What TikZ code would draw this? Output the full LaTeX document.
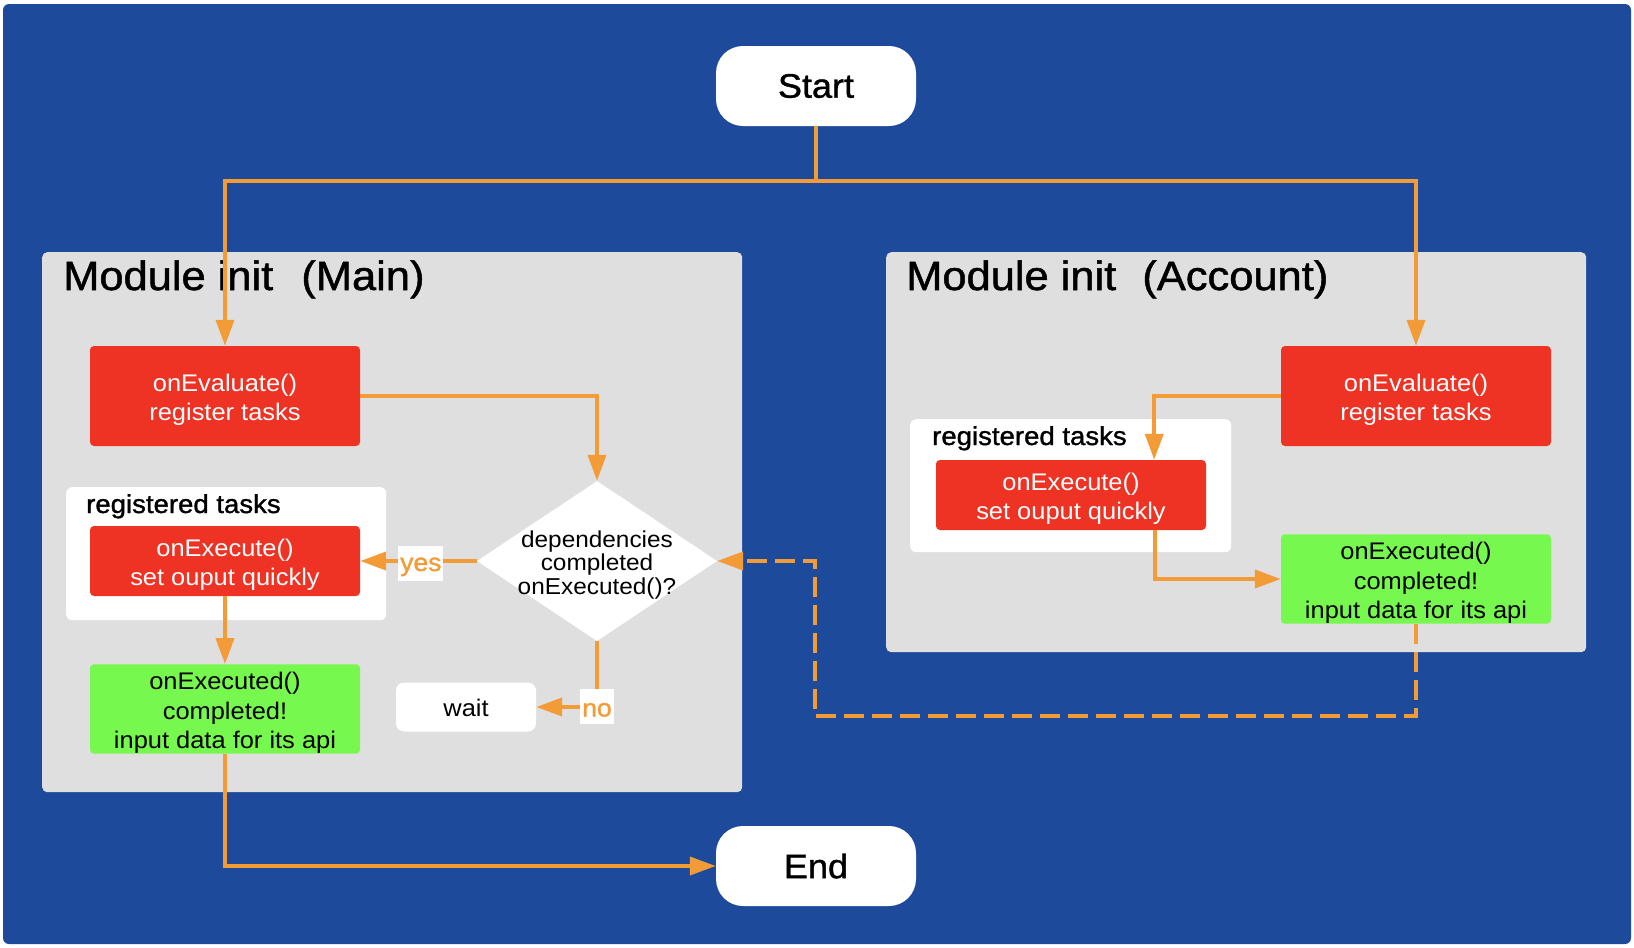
\documentclass[tikz,border=0pt]{standalone}
\usepackage{fontspec}
\setmainfont{Liberation Sans}[FakeStretch=1.06]
\newfontfamily\medfont{Liberation Sans}[FakeStretch=1.06,FakeBold=1.2]
\usetikzlibrary{shapes.geometric,arrows.meta,calc}
\definecolor{bgblue}{RGB}{30,74,155}
\definecolor{panelgray}{RGB}{223,223,223}
\definecolor{boxred}{RGB}{238,50,36}
\definecolor{boxgreen}{RGB}{118,248,78}
\definecolor{arrorange}{RGB}{242,155,55}
\newcommand{\firstln}{\rule{0pt}{25.5pt}}
\tikzset{
  panel/.style={fill=panelgray, rounded corners=5pt, draw=none, inner sep=0pt, anchor=north west},
  container/.style={fill=white, rounded corners=6pt, draw=none, inner sep=0pt, anchor=north west},
  paneltitle/.style={anchor=base west, inner sep=0pt, font=\medfont\fontsize{41}{48}\selectfont},
  tasklabel/.style={anchor=base west, inner sep=0pt, font=\medfont\fontsize{26}{30}\selectfont},
  terminal/.style={fill=white, rounded corners=27pt, minimum width=200pt, minimum height=80pt, inner sep=0pt, font=\medfont\fontsize{34}{40}\selectfont},
  redbox/.style={fill=boxred, text=white, rounded corners=4pt, minimum width=270pt, inner sep=0pt, align=center, font=\fontsize{24}{29}\selectfont},
  greenbox/.style={fill=boxgreen, text=black, rounded corners=4pt, minimum width=270pt, minimum height=86pt, inner sep=0pt, align=center, font=\fontsize{24}{29.5}\selectfont},
  waitbox/.style={fill=white, rounded corners=8pt, minimum width=140pt, minimum height=49pt, inner sep=0pt, text height=20pt, text depth=1pt, font=\fontsize{24}{29}\selectfont},
  decision/.style={diamond, fill=white, minimum width=240pt, minimum height=160pt, inner sep=0pt},
  yesno/.style={fill=white, text=arrorange, inner xsep=2pt, inner ysep=0pt, minimum height=35pt, text height=17pt, text depth=1pt, font=\medfont\fontsize{25}{30}\selectfont},
  arr/.style={draw=arrorange, line width=3.8pt, -{Triangle[length=26pt,width=18pt]}},
  dashedarr/.style={arr, dash pattern=on 20pt off 8pt},
  plain/.style={draw=arrorange, line width=3.8pt}
}
\begin{document}
\begin{tikzpicture}[x=1pt,y=-1pt]
\useasboundingbox (0,0) rectangle (1634,948);
\fill[white] (0,0) rectangle (1634,948);
\fill[bgblue, rounded corners=6pt] (3,4) rectangle (1631,944);

% terminals
\node[terminal] (start) at (816,86) {Start};
\node[terminal] (end) at (816,866) {End};

% panels
\node[panel, minimum width=700pt, minimum height=540pt] (mainpanel) at (42,252) {};
\node[panel, minimum width=700pt, minimum height=400pt] (accpanel) at (886,252) {};
\node[paneltitle] (maintitle) at (63,290) {Module init\hspace{16pt} (Main)};
\node[paneltitle] (acctitle) at (906,290) {Module init\hspace{14pt} (Account)};

% containers
\node[container, minimum width=320pt, minimum height=133pt] (maintasks) at (66,487) {};
\node[container, minimum width=321pt, minimum height=133pt] (acctasks) at (910,419) {};
\node[tasklabel] (maintaskslbl) at (86,513) {registered tasks};
\node[tasklabel] (acctaskslbl) at (932,445) {registered tasks};

% main module boxes
\node[redbox, minimum height=100pt] (eval1) at (225,396) {\firstln onEvaluate()\\register tasks};
\node[redbox, minimum height=70pt] (exe1) at (225,561) {\firstln onExecute()\\set ouput quickly};
\node[greenbox] (green1) at (225,709) {\firstln onExecuted()\\completed!\\input data for its api};
\node[decision, label={[name=diatxt, align=center, inner sep=0pt, yshift=-4pt, font=\fontsize{23}{23.7}\selectfont]center:dependencies\\completed\\onExecuted()?}] (dia) at (597,561) {};
\node[waitbox] (wait) at (466,707) {wait};

% account module boxes
\node[redbox, minimum height=100pt] (eval2) at (1416,396) {\firstln onEvaluate()\\register tasks};
\node[redbox, minimum height=70pt] (exe2) at (1071,495) {\firstln onExecute()\\set ouput quickly};
\node[greenbox] (green2) at (1416,579) {\firstln onExecuted()\\completed!\\input data for its api};

% connectors
\coordinate (split) at (816,181);
\draw[plain] (start.south) -- (split);
\draw[arr] (split) -| (eval1.north);
\draw[arr] (split) -| (eval2.north);
\draw[arr] (eval1.east) -| (dia.north);
\draw[arr] (dia.west) -- node[yesno, pos=0.48, yshift=-2pt] (yeslbl) {yes} (exe1.east);
\draw[arr] (dia.south) |- node[yesno, pos=0.5, yshift=1pt, text height=22pt] (nolbl) {no} (wait.east);
\draw[arr] (exe1.south) -- (green1.north);
\draw[arr] (green1.south) |- (end.west);
\draw[arr] (eval2.west) -| ($(exe2.north east)+(-52,0)$);
\draw[arr] ($(exe2.south east)+(-51,0)$) |- (green2.west);
\coordinate (dl) at (815,716);
\draw[dashedarr] (green2.south) |- (dl) |- (dia.east);
\end{tikzpicture}
\end{document}
